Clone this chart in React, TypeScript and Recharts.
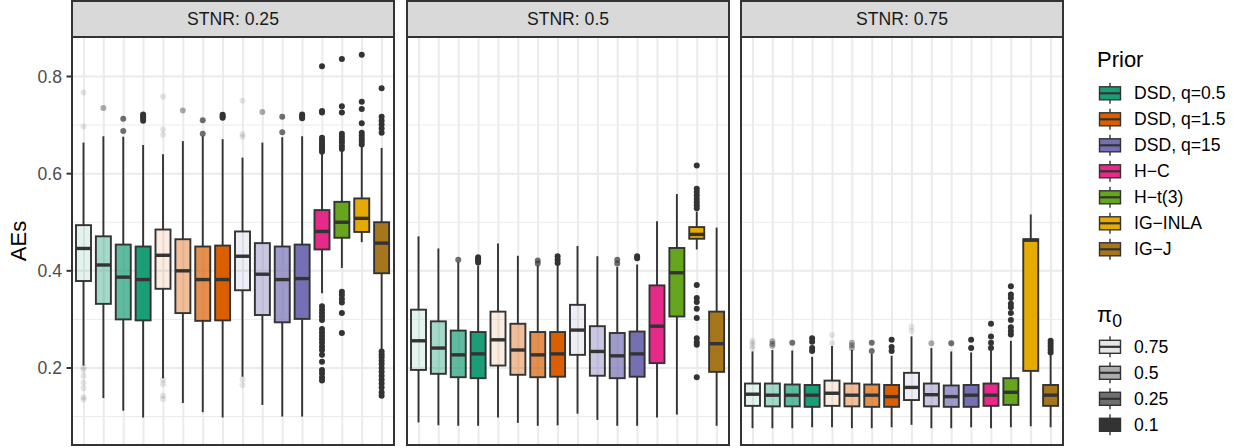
import React from "react";
import { ComposedChart, Bar, XAxis, YAxis, CartesianGrid } from "recharts";

const FONT = "'Liberation Sans', Arial, Helvetica, sans-serif";

// 16 boxes per panel: 3 DSD priors x 4 pi0 levels, then 4 other priors
const categories = [
  "d05_75", "d05_50", "d05_25", "d05_10",
  "d15_75", "d15_50", "d15_25", "d15_10",
  "d150_75", "d150_50", "d150_25", "d150_10",
  "hc", "ht3", "iginla", "igj",
];
const boxPrior = [0, 0, 0, 0, 1, 1, 1, 1, 2, 2, 2, 2, 3, 4, 5, 6];
const boxPi0 = [0, 1, 2, 3, 0, 1, 2, 3, 0, 1, 2, 3, 3, 3, 3, 3];

const priors = ["DSD, q=0.5", "DSD, q=1.5", "DSD, q=15", "H−C", "H−t(3)", "IG−INLA", "IG−J"];
const priorColors = ["#1B9E77", "#D95F02", "#7570B3", "#E7298A", "#66A61E", "#E6AB02", "#A6761D"];
const pi0Levels = ["0.75", "0.5", "0.25", "0.1"];
const pi0Alpha = [0.12, 0.4, 0.7, 1];

const panelTitles = ["STNR: 0.25", "STNR: 0.5", "STNR: 0.75"];
const yTicks = [0.2, 0.4, 0.6, 0.8];
const yMinor = [0.1, 0.3, 0.5, 0.7];

// [lower whisker, q1, median, q3, upper whisker]
const stats025 = [
  [0.205, 0.379, 0.446, 0.494, 0.664],
  [0.138, 0.332, 0.412, 0.471, 0.677],
  [0.112, 0.300, 0.387, 0.454, 0.676],
  [0.098, 0.298, 0.382, 0.450, 0.659],
  [0.179, 0.363, 0.432, 0.485, 0.640],
  [0.128, 0.313, 0.400, 0.465, 0.667],
  [0.109, 0.297, 0.382, 0.450, 0.677],
  [0.098, 0.298, 0.382, 0.452, 0.671],
  [0.182, 0.360, 0.430, 0.481, 0.633],
  [0.124, 0.309, 0.393, 0.457, 0.664],
  [0.100, 0.294, 0.382, 0.450, 0.675],
  [0.100, 0.301, 0.384, 0.454, 0.677],
  [0.354, 0.444, 0.481, 0.525, 0.643],
  [0.406, 0.468, 0.500, 0.542, 0.650],
  [0.459, 0.480, 0.508, 0.549, 0.656],
  [0.237, 0.395, 0.457, 0.500, 0.653],
];
const outliers025 = [
  [0.767, 0.697, 0.201, 0.196, 0.184, 0.170, 0.159, 0.140, 0.135],
  [0.735],
  [0.713, 0.688],
  [0.722, 0.718, 0.714, 0.709],
  [0.759, 0.691, 0.680, 0.176, 0.167, 0.143, 0.136],
  [0.730],
  [0.710, 0.682],
  [0.721, 0.718, 0.715],
  [0.750, 0.681, 0.676, 0.177, 0.165],
  [0.727],
  [0.717, 0.685],
  [0.722, 0.718, 0.714],
  [0.821, 0.729, 0.726, 0.674, 0.668, 0.663, 0.658, 0.653, 0.648, 0.645, 0.327, 0.320, 0.313, 0.306, 0.299, 0.280, 0.273, 0.266, 0.259, 0.252, 0.244, 0.237, 0.227, 0.213, 0.196, 0.189, 0.181, 0.174],
  [0.836, 0.739, 0.726, 0.682, 0.676, 0.670, 0.664, 0.657, 0.651, 0.357, 0.350, 0.342, 0.335, 0.313, 0.272],
  [0.845, 0.748, 0.733, 0.704, 0.684, 0.678, 0.672, 0.666, 0.660],
  [0.776, 0.717, 0.709, 0.701, 0.693, 0.684, 0.234, 0.228, 0.222, 0.215, 0.208, 0.200, 0.192, 0.184, 0.176, 0.168, 0.160, 0.150, 0.143],
];

const stats050 = [
  [0.088, 0.196, 0.256, 0.320, 0.471],
  [0.082, 0.188, 0.241, 0.296, 0.446],
  [0.081, 0.181, 0.227, 0.277, 0.418],
  [0.081, 0.179, 0.229, 0.274, 0.411],
  [0.098, 0.205, 0.258, 0.316, 0.456],
  [0.087, 0.186, 0.237, 0.291, 0.431],
  [0.081, 0.181, 0.227, 0.274, 0.411],
  [0.082, 0.182, 0.229, 0.274, 0.411],
  [0.106, 0.227, 0.278, 0.330, 0.451],
  [0.093, 0.184, 0.234, 0.286, 0.430],
  [0.081, 0.179, 0.225, 0.272, 0.408],
  [0.081, 0.182, 0.229, 0.275, 0.413],
  [0.098, 0.210, 0.286, 0.370, 0.502],
  [0.104, 0.306, 0.396, 0.447, 0.558],
  [0.444, 0.466, 0.475, 0.490, 0.522],
  [0.081, 0.192, 0.250, 0.316, 0.489],
];
const outliers050 = [
  [], [], [0.423], [0.428, 0.425, 0.421, 0.417],
  [], [], [0.421, 0.415], [0.430, 0.423, 0.416],
  [], [], [0.423, 0.415], [0.430, 0.426],
  [], [],
  [0.617, 0.569, 0.562, 0.555, 0.548, 0.541, 0.535, 0.529, 0.371, 0.344, 0.336, 0.322, 0.303, 0.261, 0.253, 0.248, 0.181],
  [],
];

const stats075 = [
  [0.076, 0.122, 0.146, 0.168, 0.234],
  [0.076, 0.121, 0.144, 0.168, 0.237],
  [0.076, 0.121, 0.144, 0.166, 0.236],
  [0.078, 0.120, 0.144, 0.165, 0.223],
  [0.078, 0.122, 0.148, 0.174, 0.245],
  [0.076, 0.121, 0.144, 0.168, 0.237],
  [0.076, 0.120, 0.144, 0.166, 0.229],
  [0.078, 0.120, 0.141, 0.165, 0.225],
  [0.083, 0.134, 0.160, 0.190, 0.265],
  [0.076, 0.121, 0.145, 0.168, 0.241],
  [0.076, 0.120, 0.141, 0.164, 0.234],
  [0.078, 0.120, 0.144, 0.165, 0.232],
  [0.076, 0.122, 0.144, 0.168, 0.236],
  [0.078, 0.124, 0.150, 0.179, 0.256],
  [0.080, 0.194, 0.463, 0.465, 0.516],
  [0.078, 0.122, 0.144, 0.165, 0.229],
];
const outliers075 = [
  [0.256, 0.251, 0.246, 0.240],
  [0.255, 0.250, 0.246],
  [0.252],
  [0.261, 0.254, 0.241, 0.235],
  [0.268, 0.251],
  [0.252, 0.247, 0.241],
  [0.252, 0.235],
  [0.258, 0.243, 0.235],
  [0.285, 0.276],
  [0.251],
  [0.251],
  [0.258, 0.241],
  [0.291, 0.265, 0.252, 0.241],
  [0.368, 0.351, 0.344, 0.332, 0.325, 0.313, 0.299, 0.284, 0.276, 0.269],
  [],
  [0.256, 0.250, 0.244, 0.238, 0.232],
];

const buildRows = (stats: number[][], outs: number[][]) =>
  categories.map((cat, i) => ({
    cat,
    range: [stats[i][0], stats[i][4]],
    stats: stats[i],
    out: outs[i],
    color: priorColors[boxPrior[i]],
    alpha: pi0Alpha[boxPi0[i]],
  }));

const panelData = [
  buildRows(stats025, outliers025),
  buildRows(stats050, outliers050),
  buildRows(stats075, outliers075),
];

// page layout of the three facets
const panelLeft = [72, 407, 741];
const panelWidth = 322;
const stripTop = 1;
const plotTop = 37;
const plotHeight = 409;

const BoxShape = (props: any) => {
  const { x, y, width, height, payload } = props;
  const [lo, q1, med, q3, hi] = payload.stats;
  const top = Math.min(y, y + height);
  const bot = Math.max(y, y + height);
  // linear map using the pixel span the bar got from the y scale
  const py = (v: number) => bot - ((v - lo) / (hi - lo)) * (bot - top);
  const cx = x + width / 2;
  return (
    <g>
      <line x1={cx} x2={cx} y1={py(hi)} y2={py(q3)} stroke="#333333" strokeWidth={1.9} />
      <line x1={cx} x2={cx} y1={py(q1)} y2={py(lo)} stroke="#333333" strokeWidth={1.9} />
      <rect
        x={x}
        y={py(q3)}
        width={width}
        height={py(q1) - py(q3)}
        fill={payload.color}
        fillOpacity={payload.alpha}
        stroke="#333333"
        strokeWidth={1.9}
      />
      <line x1={x} x2={x + width} y1={py(med)} y2={py(med)} stroke="#333333" strokeWidth={3.4} />
      {payload.out.map((v: number, k: number) => (
        <circle key={k} cx={cx} cy={py(v)} r={3} fill="#333333" fillOpacity={payload.alpha} />
      ))}
    </g>
  );
};

function Panel({ rows, showAxis }: { rows: any[]; showAxis: boolean }) {
  const width = showAxis ? panelWidth + 72 : panelWidth;
  return (
    <ComposedChart width={width} height={plotHeight} data={rows} margin={{ top: 0, right: 0, bottom: 0, left: 0 }}>
      <CartesianGrid stroke="#EBEBEB" strokeWidth={1} vertical={false} horizontalValues={yMinor} />
      <CartesianGrid stroke="#EBEBEB" strokeWidth={2} />
      <XAxis dataKey="cat" type="category" hide interval={0} padding={{ left: 2, right: 2 }} />
      <YAxis
        type="number"
        domain={[0.0394, 0.8813]}
        ticks={yTicks}
        allowDataOverflow
        hide={!showAxis}
        width={72}
        tickSize={5.5}
        tickMargin={4.5}
        axisLine={false}
        tickLine={{ stroke: "#333333", strokeWidth: 2 }}
        tick={{ fill: "#4D4D4D", fontSize: 17.6, fontFamily: FONT }}
      />
      <Bar dataKey="range" barSize={15} isAnimationActive={false} shape={BoxShape} />
    </ComposedChart>
  );
}

function KeyGlyph({ x, cy, fill, opacity }: { x: number; cy: number; fill: string; opacity: number }) {
  const w = 21;
  const cx = x + w / 2;
  return (
    <g>
      <line x1={cx} x2={cx} y1={cy - 10.5} y2={cy - 6.5} stroke="#333333" strokeWidth={1.4} />
      <line x1={cx} x2={cx} y1={cy + 6.5} y2={cy + 10.5} stroke="#333333" strokeWidth={1.4} />
      <rect x={x} y={cy - 6.5} width={w} height={13} fill={fill} fillOpacity={opacity} stroke="#333333" strokeWidth={1.4} />
      <line x1={x} x2={x + w} y1={cy} y2={cy} stroke="#333333" strokeWidth={2.2} />
    </g>
  );
}

export default function App() {
  const priorRows = [93.3, 119.3, 145.3, 171.3, 197.3, 223.3, 249.3];
  const pi0Rows = [346.8, 372.8, 398.8, 424.8];
  return (
    <div style={{ position: "absolute", left: 0, top: 0, width: 1234, height: 448, background: "#ffffff", fontFamily: FONT }}>
      <svg width={1234} height={448} style={{ position: "absolute", left: 0, top: 0 }}>
        <text
          x={18}
          y={241}
          transform="rotate(-90 18 241)"
          textAnchor="middle"
          dominantBaseline="central"
          fontSize={22}
          fill="#000000"
          fontFamily={FONT}
        >
          AEs
        </text>
        <text x={1097} y={66.5} fontSize={22} fill="#000000" fontFamily={FONT}>
          Prior
        </text>
        {priors.map((p, i) => (
          <g key={p}>
            <KeyGlyph x={1099.5} cy={priorRows[i]} fill={priorColors[i]} opacity={1} />
            <text x={1134} y={priorRows[i]} dominantBaseline="central" fontSize={17.6} fill="#000000" fontFamily={FONT}>
              {p}
            </text>
          </g>
        ))}
        <text x={1097} y={322} fontSize={22} fill="#000000" fontFamily={FONT}>
          π
          <tspan fontSize={17.6} dy={5}>0</tspan>
        </text>
        {pi0Levels.map((p, i) => (
          <g key={p}>
            <KeyGlyph x={1099.5} cy={pi0Rows[i]} fill="#333333" opacity={pi0Alpha[i]} />
            <text x={1134} y={pi0Rows[i]} dominantBaseline="central" fontSize={17.6} fill="#000000" fontFamily={FONT}>
              {p}
            </text>
          </g>
        ))}
      </svg>

      {panelData.map((rows, i) => (
        <div
          key={i}
          style={{ position: "absolute", top: plotTop, left: i === 0 ? 0 : panelLeft[i] }}
        >
          <Panel rows={rows} showAxis={i === 0} />
        </div>
      ))}

      <svg width={1234} height={448} style={{ position: "absolute", left: 0, top: 0, pointerEvents: "none" }}>
        {panelTitles.map((t, i) => (
          <g key={t}>
            <rect
              x={panelLeft[i]}
              y={stripTop}
              width={panelWidth}
              height={plotTop - stripTop}
              fill="#D9D9D9"
              stroke="#333333"
              strokeWidth={2}
            />
            <text
              x={panelLeft[i] + panelWidth / 2}
              y={(stripTop + plotTop) / 2}
              textAnchor="middle"
              dominantBaseline="central"
              fontSize={17.6}
              fill="#1A1A1A"
              fontFamily={FONT}
            >
              {t}
            </text>
            <rect x={panelLeft[i]} y={plotTop} width={panelWidth} height={plotHeight - 1} fill="none" stroke="#333333" strokeWidth={2} />
          </g>
        ))}
      </svg>
    </div>
  );
}
